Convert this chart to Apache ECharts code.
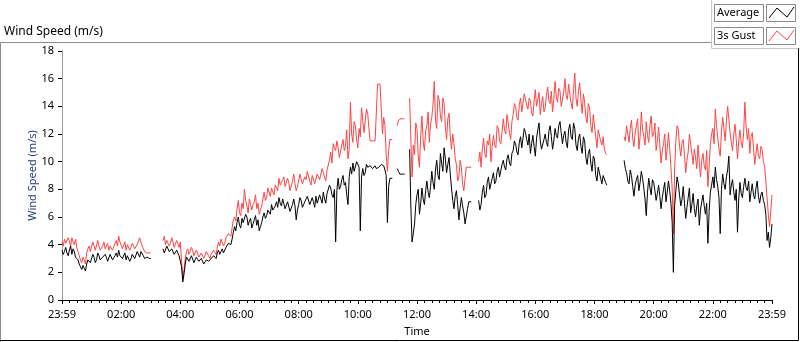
<!DOCTYPE html>
<html lang="en">
<head>
<meta charset="UTF-8">
<title>Wind Speed</title>
<style>
    html, body { margin: 0; padding: 0; background: #fff; }
    #myEcharts { width: 800px; height: 342px; }
</style>
<script src="https://cdn.jsdelivr.net/npm/echarts@6/dist/echarts.min.js"></script>
</head>
<body>
<div id="myEcharts"></div>
<script>
    // samples every 2.5 minutes, from 23:59 (0) to 23:59 (1440), null = no data
    var stepMin = 2.5;
    var seriesNames = ['Average', '3s Gust'];
    var seriesColors = ['#000000', '#ff4444'];

    var average = [
        3.6,3.3, 3.5,3.8, 3.4,3.2, 3.6,3.9, 3.3,3.7, 3.5,3.1, 3.2,2.9, 2.6,2.4, 2.2,2.5, 2.3,2.1,
        2.6,2.9, 3.0,2.7, 2.8,3.3, 3.1,2.7, 2.9,3.4, 3.2,2.9, 2.8,3.1, 3.0,3.3, 3.1,2.8, 2.9,3.3,
        3.2,2.9, 3.0,3.2, 3.4,3.1, 3.6,3.2, 3.3,3.0, 3.1,3.4, 2.9,3.2, 3.2,2.8, 3.0,3.3, 3.3,3.0,
        3.1,3.5, 3.4,3.1, 3.5,3.6, 3.2,3.0, 2.9,3.1, 3.0,3.0, 3.0,
        null,null,null,null,null,null,null,null,null,
        3.7,3.4, 3.5,3.9, 3.8,3.5, 3.4,3.7, 3.6,3.3, 3.2,3.6, 3.5,3.2, 3.3,2.4, 1.3,1.9, 2.6,3.1,
        3.2,2.8, 2.9,3.2, 3.1,2.7, 2.8,3.1, 3.0,2.8, 2.7,3.0, 2.9,2.6, 2.7,2.9, 3.0,2.8, 2.7,3.0,
        2.9,3.2, 3.1,3.0, 3.4,3.6, 3.3,3.5, 3.7,3.4, 3.5,3.8, 3.9,4.1, 4.2,4.0, 4.4,4.9, 5.3,5.0,
        5.6,6.0, 5.4,5.2, 5.9,5.6, 5.5,6.2, 6.0,5.4, 5.7,5.9, 5.2,5.5, 5.8,6.1, 5.4,5.8, 5.0,5.3,
        5.6,6.0, 6.3,5.9, 6.1,6.5, 6.6,6.2, 6.9,6.5, 6.4,6.8, 7.1,6.7, 7.4,7.0, 6.8,7.3, 7.2,6.6,
        6.7,7.1, 7.0,6.4, 6.5,6.9, 7.3,6.8, 5.8,6.5, 6.9,7.4, 7.2,6.7, 6.6,7.1, 7.0,7.5, 7.4,6.9,
        6.8,7.4, 7.1,6.7, 7.5,7.0, 6.9,7.6, 7.3,7.0, 7.8,7.3, 7.0,7.7, 7.6,8.3, 8.1,7.6, 7.4,8.0,
        4.2,7.9, 8.8,8.0, 8.2,8.7, 9.0,8.3, 8.5,7.6, 6.9,8.9, 9.6,9.1, 9.9,9.3, 9.4,10.0, 10.1,9.6,
        5.0,8.9, 9.5,9.0, 9.2,9.8, 9.6,9.7, 9.7,9.6, 9.5,9.5, 9.7,9.5, 9.5,9.6, 9.6,9.8, 9.8,9.7,
        9.4,9.0, 5.6,8.2, 8.8,8.8, 8.8,
        null,null,null,
        9.5,9.3, 9.1,9.1, 9.1,9.1, 9.1,
        null,null,null,
        10.9,6.8, 4.2,4.8, 5.5,6.9, 7.6,8.0, 6.2,7.0, 8.1,7.3, 6.9,7.9, 8.6,7.8, 7.4,8.2, 9.3,8.5,
        8.0,9.4, 10.1,9.0, 8.7,10.6, 9.9,9.3, 11.0,10.2, 9.2,9.8, 10.3,9.1, 8.1,7.2, 6.6,7.5, 7.9,6.9,
        5.8,6.7, 7.4,6.8, 6.3,5.5, 5.6,6.6, 7.1,7.1, 7.1,
        null,null,null,null,null,
        7.2,6.5, 6.9,7.8, 8.3,7.4, 7.6,8.5, 8.9,8.0, 8.1,8.8, 9.2,8.4, 8.6,9.3, 9.6,8.9, 9.0,9.8,
        10.1,9.6, 9.4,10.2, 10.5,9.9, 9.7,10.6, 10.8,11.5, 11.3,10.7, 10.5,11.4, 11.8,11.0, 10.9,12.4, 12.1,11.6,
        11.2,12.0, 10.6,11.3, 11.9,11.1, 10.4,11.7, 12.3,12.8, 11.5,10.9, 10.8,11.6, 12.0,11.4, 11.1,12.2, 12.6,11.8,
        10.9,11.5, 12.4,11.9, 11.7,12.6, 12.9,12.1, 11.3,11.9, 12.2,11.4, 11.0,12.3, 12.7,11.8, 11.6,12.8, 12.4,11.2,
        10.8,11.7, 12.0,11.1, 10.6,11.8, 11.5,10.3, 9.8,10.6, 10.9,9.9, 9.3,10.4, 10.2,9.0, 8.6,9.6, 9.5,8.8,
        8.4,9.0, 9.1,8.5, 8.3,
        null,null,null,null,null,null,null,null,null,null,null,null,null,
        10.1,9.5, 9.2,8.6, 8.4,9.4, 9.0,8.2, 7.5,8.3, 8.7,9.0, 7.9,8.5, 9.3,8.8, 8.1,7.3, 6.1,7.8,
        8.8,8.1, 7.6,8.7, 8.5,7.9, 7.2,7.7, 8.3,7.5, 6.6,7.4, 8.0,8.5, 7.1,7.8, 8.6,7.9, 7.0,5.6,
        2.0,6.8, 7.9,8.9, 8.4,7.6, 6.8,7.3, 8.2,7.0, 5.9,6.7, 7.4,8.1, 6.3,6.9, 7.7,6.6, 6.0,6.8,
        7.3,5.4, 6.5,7.1, 7.6,6.8, 6.2,7.0, 4.1,6.4, 7.8,8.3, 8.9,8.1, 9.6,8.7, 8.2,7.4, 4.8,8.0,
        9.1,8.4, 8.0,8.9, 9.4,10.4, 7.6,8.3, 8.7,7.8, 7.2,8.0, 4.9,7.3, 8.5,7.7, 7.4,8.2, 8.8,8.1,
        7.9,8.6, 7.1,7.8, 8.4,7.6, 7.3,8.1, 8.6,7.5, 7.0,7.6, 7.8,7.2, 6.9,6.2, 4.3,4.9, 3.8,4.5,
        5.5
    ];

    var gust = [
        4.2,3.9, 4.4,4.1, 4.0,4.5, 4.3,3.9, 4.5,4.2, 4.0,4.4, 3.8,3.5, 3.2,2.9, 2.7,3.1, 2.9,2.6,
        3.4,3.7, 3.9,3.5, 3.6,4.2, 4.1,3.6, 3.7,4.3, 3.9,3.6, 3.5,3.9, 4.2,3.7, 3.8,4.1, 3.6,3.9,
        4.0,3.6, 3.7,4.1, 4.3,3.9, 4.6,4.2, 4.1,3.7, 3.8,4.2, 3.6,4.0, 4.0,3.6, 3.7,4.1, 3.9,3.7,
        3.6,4.0, 4.1,4.5, 4.4,3.9, 3.8,3.5, 3.4,3.4, 3.4,3.4, 3.4,
        null,null,null,null,null,null,null,null,null,
        4.3,4.6, 4.0,4.3, 4.4,3.9, 4.1,4.5, 4.2,3.8, 3.9,4.3, 4.1,3.8, 4.2,2.8, 1.6,2.2, 3.0,3.5,
        3.7,3.3, 3.5,3.8, 3.6,3.2, 3.3,3.6, 3.4,3.1, 3.1,3.4, 3.3,3.0, 3.2,3.5, 3.5,3.2, 3.0,3.3,
        3.2,3.6, 3.5,3.3, 3.8,4.2, 3.9,4.4, 4.3,3.9, 4.1,4.5, 4.6,4.8, 4.9,4.6, 5.2,5.8, 6.0,5.7,
        6.6,7.2, 6.3,6.1, 7.0,6.6, 8.0,7.2, 6.8,6.3, 7.3,6.9, 6.5,6.9, 7.1,7.6, 6.6,7.0, 6.2,6.5,
        6.8,7.3, 7.8,7.2, 7.4,8.1, 8.0,7.5, 8.1,7.8, 7.6,8.3, 8.4,7.9, 8.8,8.3, 8.2,8.7, 8.9,8.2,
        8.3,8.8, 8.5,7.9, 8.0,8.6, 9.1,8.4, 7.9,8.2, 8.6,9.1, 9.0,8.4, 8.4,8.9, 8.7,9.3, 9.2,8.6,
        8.3,9.0, 8.9,8.4, 8.5,9.1, 9.2,8.7, 8.8,9.5, 9.4,8.9, 8.6,9.4, 9.3,10.1, 10.7,9.9, 11.3,11.0,
        10.8,11.5, 11.0,10.3, 10.4,11.2, 11.6,10.8, 11.1,12.3, 10.2,10.9, 14.3,12.0, 11.4,12.9, 12.6,11.6, 11.0,12.4,
        11.8,13.9, 13.0,12.1, 12.2,13.8, 13.5,12.4, 11.5,11.5, 11.5,11.5, 11.5,11.5, 15.6,15.6, 15.6,15.6, 12.0,13.2,
        12.6,10.5, 9.3,10.8, 11.6,11.6, 11.6,
        null,null,null,
        12.6,13.0, 13.1,13.1, 13.1,13.1, 13.1,
        null,null,null,
        14.6,14.6, 8.9,11.2, 10.5,12.8, 12.4,10.4, 9.6,11.9, 13.3,11.5, 10.8,12.2, 12.6,13.6, 11.4,12.7, 13.2,14.1,
        15.8,13.0, 12.4,14.8, 14.5,13.3, 12.9,14.6, 14.2,12.5, 11.6,13.1, 13.5,11.8, 10.9,12.0, 11.3,10.2, 9.8,8.6,
        8.9,10.1, 9.6,8.4, 7.9,8.8, 9.6,9.6, 9.6,9.6, 9.6,
        null,null,null,null,null,
        10.0,10.7, 9.6,10.9, 11.7,10.6, 10.3,11.5, 11.2,12.0, 10.0,11.1, 11.9,11.2, 11.0,12.6, 12.4,11.5, 11.3,12.2,
        13.1,12.3, 12.0,13.4, 12.8,12.1, 11.6,12.9, 13.4,14.2, 14.0,13.2, 13.0,14.1, 14.6,13.6, 13.5,14.9, 15.0,14.1,
        13.8,14.6, 14.4,13.5, 13.3,14.4, 15.2,14.0, 14.1,15.0, 13.4,14.2, 14.7,13.6, 13.9,14.8, 15.4,14.4, 14.2,15.1,
        13.6,14.5, 15.8,14.7, 14.3,15.3, 15.1,14.0, 13.9,15.0, 16.0,14.8, 14.5,15.6, 15.5,14.2, 13.8,15.2, 16.4,14.6,
        14.0,15.1, 15.7,14.4, 13.5,14.9, 14.3,13.2, 12.8,14.2, 13.9,12.6, 12.1,13.4, 13.3,11.8, 11.0,12.3, 12.4,11.5,
        11.2,11.8, 10.9,10.6, 10.5,
        null,null,null,null,null,null,null,null,null,null,null,null,null,
        11.8,11.5, 12.6,12.0, 11.4,12.4, 13.0,11.7, 11.1,12.1, 12.2,13.1, 10.9,11.8, 13.6,12.3, 11.8,11.2, 12.9,11.9,
        11.4,12.6, 13.3,11.8, 12.0,12.8, 10.8,11.5, 12.5,11.2, 9.9,10.8, 11.3,12.0, 10.1,10.9, 12.1,11.0, 9.6,8.1,
        4.8,9.4, 11.5,12.6, 12.3,11.1, 10.4,11.4, 11.6,10.5, 9.2,10.1, 10.7,12.0, 11.9,10.6, 9.8,10.9, 10.3,9.5,
        11.2,10.0, 8.9,10.1, 10.6,9.7, 9.4,10.8, 8.2,9.6, 11.3,12.0, 12.4,11.3, 13.8,12.6, 11.7,10.9, 10.4,12.2,
        13.2,12.4, 11.5,12.9, 14.0,13.1, 12.1,11.4, 10.8,12.0, 12.7,11.6, 10.2,11.5, 12.3,11.4, 11.0,12.1, 14.3,12.5,
        11.6,12.4, 10.6,11.8, 12.1,11.0, 9.8,10.6, 11.3,10.4, 10.2,11.1, 10.9,10.0, 9.7,8.6, 7.4,6.2, 5.3,6.4,
        7.6
    ];

    var fontName = 'Noto Sans';

    function toPoints(arr) {
        return arr.map(function (v, i) { return [i * stepMin, v]; });
    }

    function timeLabel(v) {
        if (v === 0 || v === 1440) return '23:59';
        var h = Math.round(v / 60);
        return (h < 10 ? '0' : '') + h + ':00';
    }

    // LabVIEW style legend: name box + line sample box
    var legendItems = [];
    seriesNames.forEach(function (name, k) {
        var top = 4 + k * 23;
        legendItems.push({
            type: 'rect', shape: { x: 714.5, y: top + 0.5, width: 49, height: 17 },
            style: { fill: '#fff', stroke: '#8a8a8a', lineWidth: 1 }
        });
        legendItems.push({
            type: 'text', x: 717, y: top + 9,
            style: { text: name, fill: '#000', font: '11px "' + fontName + '"', verticalAlign: 'middle' }
        });
        legendItems.push({
            type: 'rect', shape: { x: 766.5, y: top + 0.5, width: 29, height: 17 },
            style: { fill: '#fff', stroke: '#8a8a8a', lineWidth: 1 }
        });
        legendItems.push({
            type: 'polyline',
            shape: { points: [[769, top + 14], [777, top + 4], [787, top + 13], [794, top + 3]] },
            style: { stroke: seriesColors[k], lineWidth: 1, fill: null }
        });
    });

    var frame = [
        { type: 'polyline', shape: { points: [[0.5, 342], [0.5, 42.5], [711.5, 42.5]] },
          style: { stroke: '#8c8c8c', lineWidth: 1, fill: null } },
        { type: 'polyline', shape: { points: [[711.5, 0], [711.5, 48.5], [800, 48.5]] },
          style: { stroke: '#c8c8c8', lineWidth: 1, fill: null } },
        { type: 'polyline', shape: { points: [[0, 340.5], [798.5, 340.5], [798.5, 48.5]] },
          style: { stroke: '#000', lineWidth: 1, fill: null } }
    ];

    var myChart = echarts.init(document.getElementById('myEcharts'));

    var option = {
        animation: false,
        backgroundColor: '#fff',
        textStyle: { fontFamily: fontName },
        title: {
            text: 'Wind Speed (m/s)',
            left: 4, top: 26, padding: 0,
            textStyle: { fontSize: 12, fontWeight: 'normal', color: '#000', fontFamily: fontName }
        },
        grid: { left: 62, top: 51, right: 28, bottom: 39 },
        xAxis: [{
            type: 'value', min: 0, max: 1440, interval: 120,
            name: 'Time', nameLocation: 'middle', nameGap: 26, nameMoveOverlap: false,
            nameTextStyle: { fontSize: 11, color: '#000' },
            axisLine: { lineStyle: { color: '#9a9a9a', width: 1 } },
            axisTick: { show: true, length: 4, lineStyle: { color: '#000' } },
            minorTick: { show: true, splitNumber: 8, length: 3, lineStyle: { color: '#000' } },
            axisLabel: { fontSize: 11, color: '#000', margin: 9, formatter: timeLabel },
            splitLine: { show: false }
        }, {
            type: 'value', min: 0, max: 1440, position: 'top',
            axisLine: { show: true, lineStyle: { color: '#000' } },
            axisTick: { show: false }, axisLabel: { show: false }, splitLine: { show: false }
        }],
        yAxis: [{
            type: 'value', min: 0, max: 18, interval: 2,
            name: 'Wind Speed (m/s)', nameLocation: 'middle', nameGap: 24, nameMoveOverlap: false,
            nameTextStyle: { fontSize: 11, color: '#243c72' },
            axisLine: { show: true, lineStyle: { color: '#000', width: 1 } },
            axisTick: { show: true, length: 4, lineStyle: { color: '#000' } },
            axisLabel: { fontSize: 11, color: '#000', margin: 8 },
            splitLine: { show: false }
        }, {
            type: 'value', min: 0, max: 18, position: 'right',
            axisLine: { show: true, lineStyle: { color: '#9a9a9a' } },
            axisTick: { show: false }, axisLabel: { show: false }, splitLine: { show: false }
        }],
        graphic: frame.concat(legendItems),
        series: [{
            name: seriesNames[1], type: 'line', showSymbol: false,
            data: toPoints(gust),
            lineStyle: { color: seriesColors[1], width: 1 }, itemStyle: { color: seriesColors[1] }
        }, {
            name: seriesNames[0], type: 'line', showSymbol: false,
            data: toPoints(average),
            lineStyle: { color: seriesColors[0], width: 1 }, itemStyle: { color: seriesColors[0] }
        }]
    };

    myChart.setOption(option);
</script>
</body>
</html>
